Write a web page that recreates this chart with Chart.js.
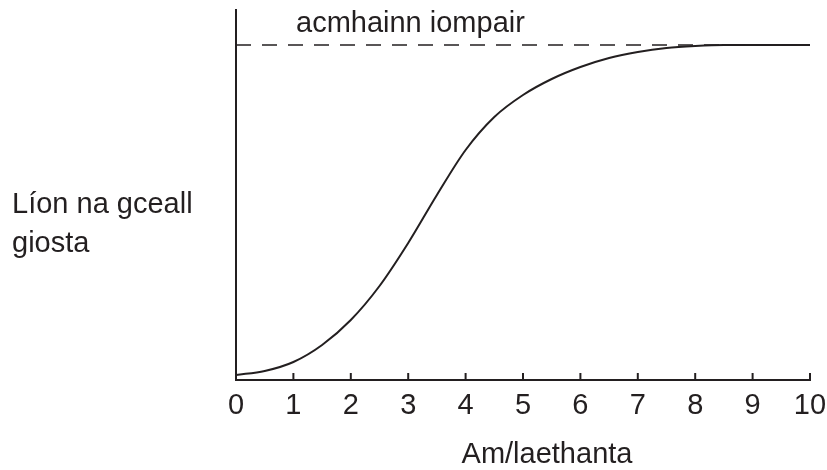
<!DOCTYPE html>
<html>
<head>
<meta charset="utf-8">
<script src="https://cdn.jsdelivr.net/npm/chart.js@4/dist/chart.umd.min.js"></script>
<style>
  html, body { margin: 0; padding: 0; background: #fff; }
  canvas { display: block; }
</style>
</head>
<body>
<canvas id="growth" width="827" height="470"></canvas>
<script>
// values (y in arbitrary units, 0 at the x axis)
const days = [0, 0.5, 1, 1.5, 2, 2.5, 3, 3.5, 4, 4.5, 5, 5.5, 6, 6.5, 7, 7.5, 8, 8.5, 9, 9.5, 10];
const cellCount = [5, 9, 18, 35, 60, 94, 137, 185, 230, 263, 285, 301, 313, 322, 328, 332, 334, 335, 335, 335, 335];
const capacity = 335;
const capacityRange = [0, 10];
const xTicks = [0, 1, 2, 3, 4, 5, 6, 7, 8, 9, 10];
const yMax = 370;

const xTitle = "Am/laethanta";
const yTitle = ["Líon na gceall", "giosta"];
const capacityLabel = "acmhainn iompair";

const ink = "#231f20";
const font = "'Liberation Sans', Arial, sans-serif";

// extra labels and inward tick marks
const extras = {
    id: "extras",
    afterDraw(chart) {
        const ctx = chart.ctx;
        const x = chart.scales.x;
        const y = chart.scales.y;
        ctx.save();
        ctx.strokeStyle = ink;
        ctx.lineWidth = 2;
        xTicks.forEach((t) => {
            const px = x.getPixelForValue(t);
            if (t === 0) return;
            ctx.beginPath();
            ctx.moveTo(px, y.bottom);
            ctx.lineTo(px, y.bottom - 7);
            ctx.stroke();
        });
        ctx.fillStyle = ink;
        ctx.font = "29px " + font;
        ctx.textBaseline = "alphabetic";
        ctx.textAlign = "left";
        ctx.fillText(capacityLabel, 296, 32);
        ctx.fillText(yTitle[0], 12, 213);
        ctx.fillText(yTitle[1], 12, 252);
        ctx.textAlign = "center";
        ctx.fillText(xTitle, 547, 463);
        ctx.restore();
    },
};

new Chart(document.getElementById("growth"), {
    type: "line",
    data: {
        datasets: [
            {
                label: "capacity",
                data: capacityRange.map((d) => ({ x: d, y: capacity })),
                borderColor: ink,
                borderWidth: 1.5,
                borderDash: [15, 11],
                pointRadius: 0,
                fill: false,
            },
            {
                label: "cells",
                data: days.map((d, i) => ({ x: d, y: cellCount[i] })),
                borderColor: ink,
                borderWidth: 2,
                pointRadius: 0,
                cubicInterpolationMode: "monotone",
                fill: false,
            },
        ],
    },
    options: {
        responsive: false,
        animation: false,
        events: [],
        layout: { padding: { top: 10, right: 17, left: 0, bottom: 0 } },
        plugins: {
            legend: { display: false },
            tooltip: { enabled: false },
        },
        scales: {
            x: {
                type: "linear",
                min: 0,
                max: 10,
                afterFit: (s) => {
                    s.height = 90;
                    s.paddingLeft = 0;
                    s.paddingRight = 0;
                },
                afterBuildTicks: (s) => { s.ticks = xTicks.map((v) => ({ value: v })); },
                ticks: {
                    color: ink,
                    font: { family: font, size: 29 },
                    padding: 9,
                    maxRotation: 0,
                    autoSkip: false,
                },
                grid: { display: false, drawTicks: false },
                border: { display: true, color: ink, width: 2 },
            },
            y: {
                min: 0,
                max: yMax,
                afterFit: (s) => { s.width = 236; },
                ticks: { display: false },
                grid: { display: false, drawTicks: false },
                border: { display: true, color: ink, width: 2 },
            },
        },
    },
    plugins: [extras],
});
</script>
</body>
</html>
